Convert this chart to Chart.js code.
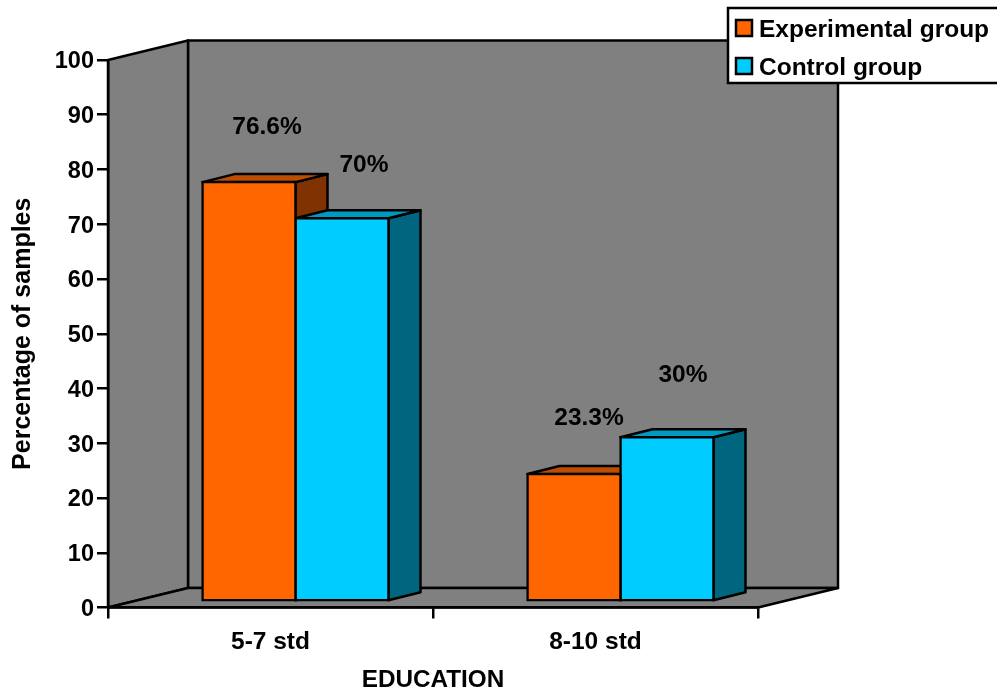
<!DOCTYPE html>
<html>
<head>
<meta charset="utf-8">
<title>Education</title>
<script src="https://cdn.jsdelivr.net/npm/chart.js@4"></script>
<style>
  body { margin: 0; background: #fff; }
  canvas { display: block; }
</style>
</head>
<body>
<canvas id="myChart" width="997" height="694"></canvas>
<script>
const categories = ['5-7 std', '8-10 std'];
const experimental = [76.6, 23.3];
const control = [70, 30];
const yTicks = [0, 10, 20, 30, 40, 50, 60, 70, 80, 90, 100];

// how far each value label sits from the top of its bar
const labelNudge = [
  [[18, -55], [15, -56]],
  [[22, -53], [16, -62]]
];

const FONT = '"Liberation Sans", Arial, sans-serif';
const INK = '#000';
const WALL = '#808080';
const LINE = 2.5;
const ROOM = { dx: 80, dy: -19.5 };   // depth of the box
const BAR_DEPTH = { dx: 32, dy: -8 };
const BAR_SHIFT = { dx: 25, dy: -6 }; // bars stand inside the floor

function poly(ctx, pts, fill) {
  ctx.beginPath();
  pts.forEach((p, i) => i ? ctx.lineTo(p[0], p[1]) : ctx.moveTo(p[0], p[1]));
  ctx.closePath();
  ctx.fillStyle = fill;
  ctx.fill();
  ctx.stroke();
}

const box3d = {
  id: 'box3d',
  beforeDraw(chart) {
    const { ctx, chartArea: a } = chart;
    const bx = a.left + ROOM.dx, tx = a.right + ROOM.dx;
    const ty = a.top + ROOM.dy, by = a.bottom + ROOM.dy;
    ctx.save();
    ctx.strokeStyle = INK;
    ctx.lineWidth = LINE;
    ctx.lineJoin = 'round';
    poly(ctx, [[bx, ty], [tx, ty], [tx, by], [bx, by]], WALL);
    poly(ctx, [[a.left, a.top], [bx, ty], [bx, by], [a.left, a.bottom]], WALL);
    poly(ctx, [[a.left, a.bottom], [bx, by], [tx, by], [a.right, a.bottom]], WALL);
    ctx.restore();
  },
  beforeDatasetsDraw(chart) {
    // side and top faces go first, left bar before right bar
    const ctx = chart.ctx;
    ctx.save();
    ctx.translate(BAR_SHIFT.dx, BAR_SHIFT.dy);
    ctx.strokeStyle = INK;
    ctx.lineWidth = LINE;
    ctx.lineJoin = 'round';
    chart.data.datasets.forEach((ds, i) => {
      chart.getDatasetMeta(i).data.forEach(bar => {
        const r = bar.x + bar.width / 2, l = bar.x - bar.width / 2;
        const t = bar.y, b = bar.base;
        poly(ctx, [[r, t], [r + BAR_DEPTH.dx, t + BAR_DEPTH.dy], [r + BAR_DEPTH.dx, b + BAR_DEPTH.dy], [r, b]], ds.sideColor);
        poly(ctx, [[l, t], [l + BAR_DEPTH.dx, t + BAR_DEPTH.dy], [r + BAR_DEPTH.dx, t + BAR_DEPTH.dy], [r, t]], ds.topColor);
      });
    });
    ctx.restore();
  },
  beforeDatasetDraw(chart) {
    chart.ctx.save();
    chart.ctx.translate(BAR_SHIFT.dx, BAR_SHIFT.dy);
  },
  afterDatasetDraw(chart) {
    chart.ctx.restore();
  },
  afterDatasetsDraw(chart) {
    const ctx = chart.ctx;
    ctx.save();
    ctx.fillStyle = INK;
    ctx.font = 'bold 24.5px ' + FONT;
    ctx.textAlign = 'center';
    ctx.textBaseline = 'middle';
    chart.data.datasets.forEach((ds, i) => {
      chart.getDatasetMeta(i).data.forEach((bar, j) => {
        const n = labelNudge[i][j];
        ctx.fillText(ds.data[j] + '%', bar.x + BAR_SHIFT.dx + n[0], bar.y + BAR_SHIFT.dy + n[1]);
      });
    });
    ctx.restore();
  },
  afterDraw(chart) {
    // legend box runs off the right edge of the canvas
    const ctx = chart.ctx;
    ctx.save();
    ctx.strokeStyle = INK;
    ctx.lineWidth = LINE;
    ctx.fillStyle = '#fff';
    ctx.fillRect(728, 8, 280, 75);
    ctx.strokeRect(728, 8, 280, 75);
    ctx.font = 'bold 24.5px ' + FONT;
    ctx.textBaseline = 'middle';
    chart.data.datasets.forEach((ds, i) => {
      const y = 20 + i * 38;
      ctx.fillStyle = ds.backgroundColor;
      ctx.fillRect(736, y, 16, 16);
      ctx.strokeRect(736, y, 16, 16);
      ctx.fillStyle = INK;
      ctx.fillText(ds.label, 759, y + 10);
    });
    ctx.restore();
  }
};

const config = {
  type: 'bar',
  data: {
    labels: categories,
    datasets: [
      {
        label: 'Experimental group',
        data: experimental,
        backgroundColor: '#FF6600',
        topColor: '#BF4D00',
        sideColor: '#803300'
      },
      {
        label: 'Control group',
        data: control,
        backgroundColor: '#00CCFF',
        topColor: '#0099BF',
        sideColor: '#006680'
      }
    ]
  },
  options: {
    responsive: false,
    animation: false,
    layout: { padding: { top: 60, right: 239, left: 0, bottom: 0 } },
    datasets: {
      bar: {
        categoryPercentage: 186 / 325,
        barPercentage: 1,
        borderColor: INK,
        borderWidth: LINE,
        borderSkipped: false,
        inflateAmount: 1.25,
        clip: false
      }
    },
    scales: {
      x: {
        afterFit(scale) { scale.height = 86.5; },
        grid: { drawOnChartArea: false, color: INK, lineWidth: LINE, tickLength: 11 },
        border: { color: INK, width: LINE },
        ticks: {
          color: INK,
          padding: 9,
          maxRotation: 0,
          font: { family: FONT, size: 24.5, weight: 'bold' }
        },
        title: {
          display: true,
          text: 'EDUCATION',
          color: INK,
          padding: { top: 0, bottom: 2 },
          font: { family: FONT, size: 24.3, weight: 'bold', lineHeight: 1 }
        }
      },
      y: {
        min: 0,
        max: 100,
        afterFit(scale) { scale.width = 108; },
        afterBuildTicks(scale) { scale.ticks = yTicks.map(value => ({ value })); },
        grid: { drawOnChartArea: false, color: INK, lineWidth: LINE, tickLength: 11 },
        border: { color: INK, width: LINE },
        ticks: {
          color: INK,
          padding: 3,
          labelOffset: 2,
          font: { family: FONT, size: 23.5, weight: 'bold' }
        },
        title: {
          display: true,
          text: 'Percentage of samples',
          color: INK,
          padding: { top: 11, bottom: 11 },
          font: { family: FONT, size: 25, weight: 'bold', lineHeight: 1 }
        }
      }
    },
    plugins: {
      legend: { display: false },
      tooltip: { enabled: false }
    }
  },
  plugins: [box3d]
};

const myChart = new Chart(document.getElementById('myChart'), config);
</script>
</body>
</html>
